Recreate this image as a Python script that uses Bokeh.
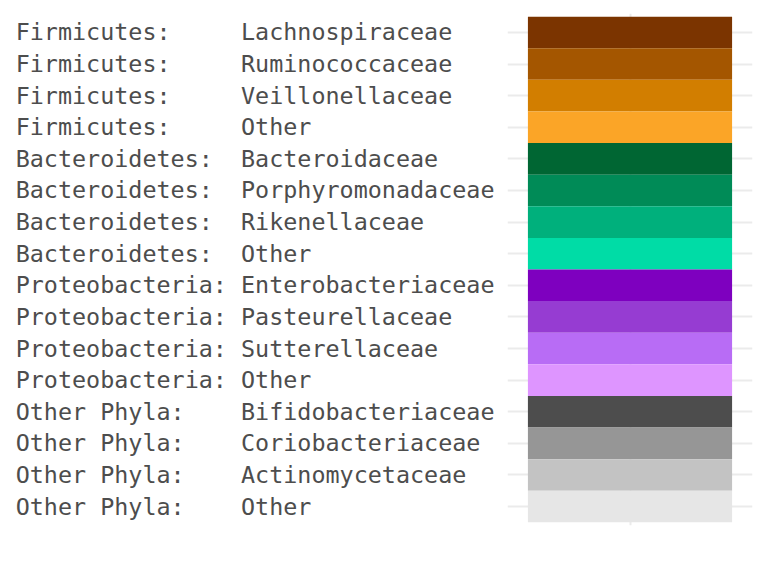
from bokeh.plotting import figure
from bokeh.models import FactorRange, Range1d, FixedTicker, ColumnDataSource
from bokeh.embed import file_html
from bokeh.resources import INLINE

phyla = ["Firmicutes", "Firmicutes", "Firmicutes", "Firmicutes",
         "Bacteroidetes", "Bacteroidetes", "Bacteroidetes", "Bacteroidetes",
         "Proteobacteria", "Proteobacteria", "Proteobacteria", "Proteobacteria",
         "Other Phyla", "Other Phyla", "Other Phyla", "Other Phyla"]
families = ["Lachnospiraceae", "Ruminococcaceae", "Veillonellaceae", "Other",
            "Bacteroidaceae", "Porphyromonadaceae", "Rikenellaceae", "Other",
            "Enterobacteriaceae", "Pasteurellaceae", "Sutterellaceae", "Other",
            "Bifidobacteriaceae", "Coriobacteriaceae", "Actinomycetaceae", "Other"]
colors = ["#7B3400", "#A45600", "#D27E00", "#FBA527",
          "#006633", "#008B57", "#00B07C", "#00DCA6",
          "#7E00BF", "#963CD2", "#B86CF5", "#DE95FF",
          "#4D4D4D", "#969696", "#C3C3C3", "#E6E6E6"]

NB = "\u00a0"
pw = max(len(p) + 2 for p in phyla)
heads = [(p + ":").ljust(pw, NB) for p in phyla]
full = [h + f for h, f in zip(heads, families)]
tw = max(len(s) for s in full)
labels = [s.ljust(tw, NB) for s in full]

src = ColumnDataSource(dict(x=[1] * len(labels), y=labels, c=colors))

p = figure(width=759, height=567, output_backend="svg", toolbar_location=None,
           x_range=Range1d(0.4, 1.6),
           y_range=FactorRange(factors=labels[::-1], range_padding=0.1,
                               range_padding_units="absolute"),
           min_border_left=507, min_border_right=7, min_border_top=13,
           min_border_bottom=42)
p.rect(x="x", y="y", width=1, height=1, fill_color="c", line_color=None, source=src)

p.outline_line_color = None
p.background_fill_color = "white"
p.border_fill_color = "white"

p.xaxis.visible = False
p.xgrid.ticker = FixedTicker(ticks=[1])
p.xgrid.grid_line_color = "#ebebeb"
p.xgrid.grid_line_width = 2
p.ygrid.grid_line_color = "#ebebeb"
p.ygrid.grid_line_width = 2

ax = p.yaxis[0]
ax.axis_line_color = None
ax.major_tick_line_color = None
ax.minor_tick_line_color = None
ax.major_tick_out = 0
ax.major_tick_in = 0
ax.major_label_standoff = 13
ax.major_label_text_font = "DejaVu Sans Mono"
ax.major_label_text_font_size = "23.4px"
ax.major_label_text_color = "#4d4d4d"

open("out.html", "w").write(file_html(p, INLINE))
